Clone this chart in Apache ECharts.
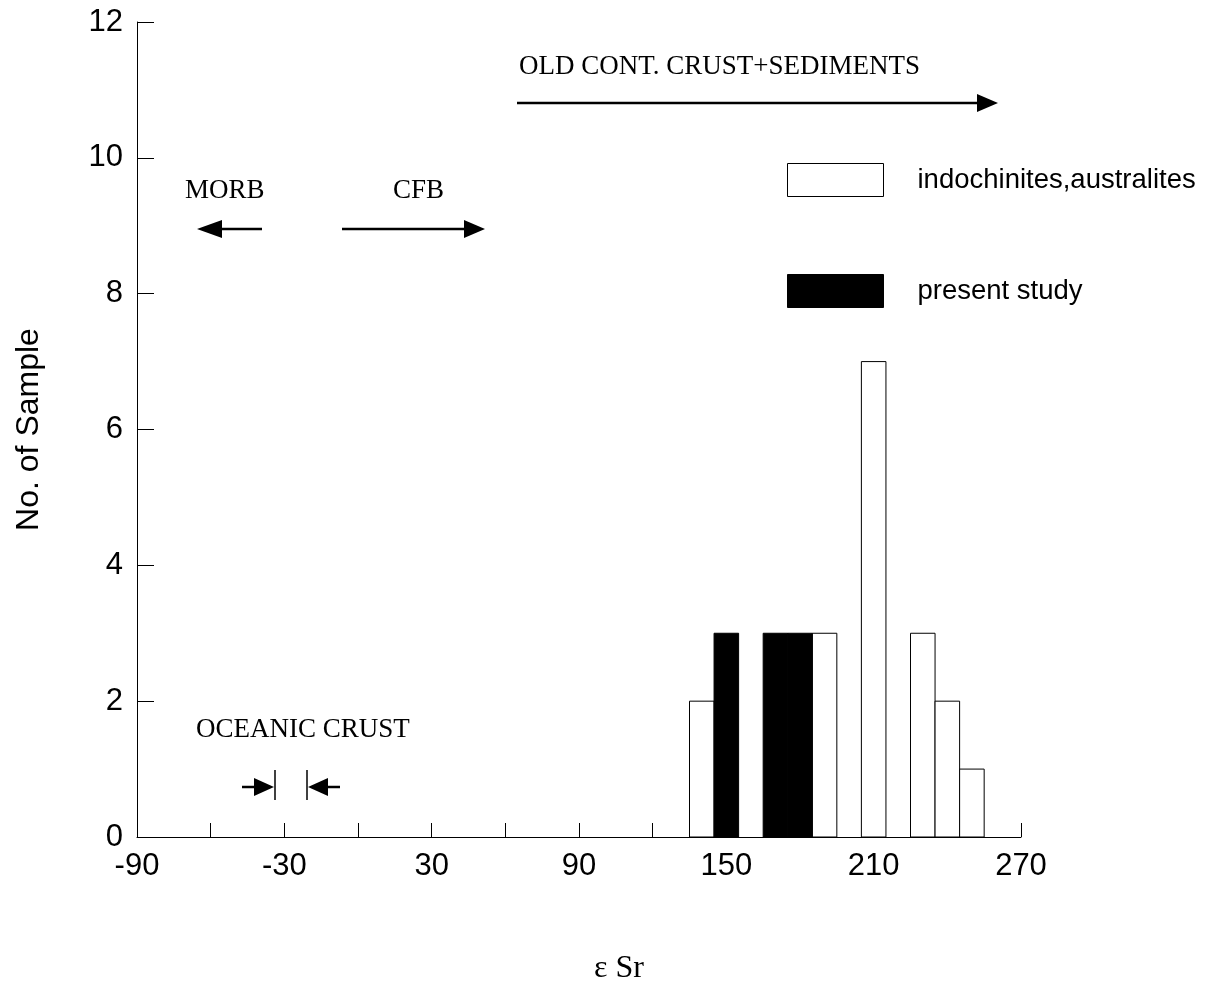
<!DOCTYPE html>
<html>
<head>
<meta charset="utf-8">
<script src="https://cdn.jsdelivr.net/npm/echarts@6/dist/echarts.min.js"></script>
<style>
  html, body { margin: 0; padding: 0; background: #fff; }
  #chart { width: 1220px; height: 983px; }
</style>
</head>
<body>
<div id="chart"></div>
<script>
// εSr histogram: bins of width 10, keyed by bin centre
const binCenters   = [140, 150, 160, 170, 180, 190, 200, 210, 220, 230, 240, 250];
const indochinites = [2, 0, 0, 0, 0, 3, 0, 7, 0, 3, 2, 1];   // indochinites, australites
const presentStudy = [0, 3, 0, 3, 3, 0, 0, 0, 0, 0, 0, 0];   // present study
const binWidth = 10;

const xTicks = [-90, -30, 30, 90, 150, 210, 270];
const yTicks = [0, 2, 4, 6, 8, 10, 12];

const seriesNames = ['indochinites,australites', 'present study'];

const SANS = '"Liberation Sans", Arial, Helvetica, sans-serif';
const SERIF = '"Liberation Serif", "Times New Roman", Times, serif';

function toPairs(values) {
  return binCenters.map((c, i) => [c, values[i]]);
}

function renderBin(params, api) {
  const c = api.value(0);
  const v = api.value(1);
  if (!v) return null;
  const topLeft = api.coord([c - binWidth / 2, v]);
  const bottomRight = api.coord([c + binWidth / 2, 0]);
  return {
    type: 'rect',
    shape: {
      x: topLeft[0],
      y: topLeft[1],
      width: bottomRight[0] - topLeft[0],
      height: bottomRight[1] - topLeft[1]
    },
    style: api.style()
  };
}

// arrow helpers for the range annotations
function arrow(x0, x1, y, head, half) {
  // head sits at x1
  const dir = x1 > x0 ? 1 : -1;
  const base = x1 - dir * head;
  return [
    { type: 'line', shape: { x1: x0, y1: y, x2: base, y2: y },
      style: { stroke: '#000', lineWidth: 2.5 } },
    { type: 'polygon', shape: { points: [[x1, y], [base, y - half], [base, y + half]] },
      style: { fill: '#000' } }
  ];
}

function label(text, x, y) {
  return {
    type: 'text', left: x, top: y,
    style: { text: text, font: '27px ' + SERIF, fill: '#000' }
  };
}

const chart = echarts.init(document.getElementById('chart'), null, { renderer: 'canvas' });

const graphics = [
  label('OLD CONT. CRUST+SEDIMENTS', 519, 53),
  ...arrow(517, 998, 103, 21, 9),
  label('MORB', 185, 177),
  ...arrow(262, 197, 229, 25, 9),
  label('CFB', 393, 177),
  ...arrow(342, 485, 229, 21, 9),
  label('OCEANIC CRUST', 196, 716),
  // converging arrows bounding the oceanic crust range
  ...arrow(242, 274, 787, 20, 9),
  { type: 'line', shape: { x1: 275, y1: 770, x2: 275, y2: 800 }, style: { stroke: '#000', lineWidth: 1.5 } },
  ...arrow(340, 308, 787, 20, 9),
  { type: 'line', shape: { x1: 307, y1: 770, x2: 307, y2: 800 }, style: { stroke: '#000', lineWidth: 1.5 } },
  {
    type: 'text', left: 594, top: 953,
    style: { text: 'ε Sr', font: '32px ' + SERIF, fill: '#000' }
  }
];

chart.setOption({
  animation: false,
  backgroundColor: '#fff',
  grid: { left: 137, right: 199, top: 22, bottom: 146, containLabel: false },
  legend: {
    orient: 'vertical',
    left: 787,
    top: 163,
    padding: 0,
    itemWidth: 96,
    itemHeight: 33,
    itemGap: 77,
    icon: 'rect',
    selectedMode: false,
    textStyle: { fontFamily: SANS, fontSize: 27.5, color: '#000', padding: [7, 0, 0, 29] },
    data: [
      { name: seriesNames[0], itemStyle: { color: '#fff', borderColor: '#000', borderWidth: 1 } },
      { name: seriesNames[1], itemStyle: { color: '#000', borderColor: '#000', borderWidth: 1 } }
    ]
  },
  xAxis: {
    type: 'value',
    min: -90,
    max: 270,
    interval: 30,
    axisLine: { show: true, onZero: false, lineStyle: { color: '#000', width: 1 } },
    axisTick: { show: true, inside: true, length: 14, lineStyle: { color: '#000', width: 1 } },
    splitLine: { show: false },
    axisLabel: {
      fontFamily: SANS, fontSize: 31, color: '#000', margin: 14,
      formatter: v => (xTicks.indexOf(v) >= 0 ? String(v) : '')
    }
  },
  yAxis: {
    type: 'value',
    min: 0,
    max: 12,
    interval: 2,
    name: 'No. of Sample',
    nameLocation: 'middle',
    nameGap: 92,
    nameTextStyle: { fontFamily: SANS, fontSize: 32, color: '#000' },
    axisLine: { show: true, onZero: false, lineStyle: { color: '#000', width: 1 } },
    axisTick: { show: true, inside: true, length: 17, lineStyle: { color: '#000', width: 1 } },
    splitLine: { show: false },
    axisLabel: {
      fontFamily: SANS, fontSize: 31, color: '#000', margin: 14,
      formatter: v => (yTicks.indexOf(v) >= 0 ? String(v) : '')
    }
  },
  series: [
    {
      name: seriesNames[0],
      type: 'custom',
      renderItem: renderBin,
      itemStyle: { color: '#fff', borderColor: '#000', borderWidth: 1 },
      encode: { x: 0, y: 1 },
      data: toPairs(indochinites),
      z: 2
    },
    {
      name: seriesNames[1],
      type: 'custom',
      renderItem: renderBin,
      itemStyle: { color: '#000', borderColor: '#000', borderWidth: 1 },
      encode: { x: 0, y: 1 },
      data: toPairs(presentStudy),
      z: 3
    }
  ],
  graphic: graphics
});
</script>
</body>
</html>
